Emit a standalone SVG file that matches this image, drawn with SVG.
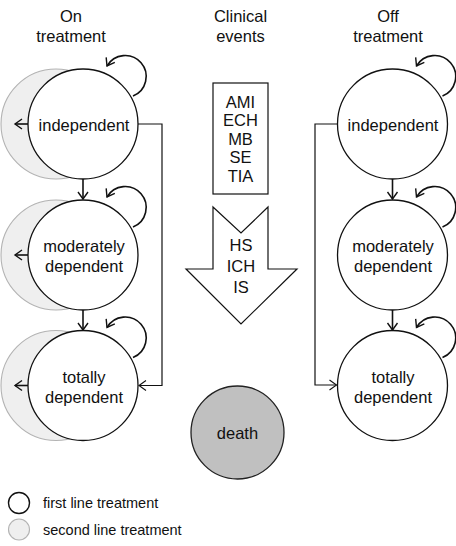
<svg xmlns="http://www.w3.org/2000/svg" width="456" height="546" viewBox="0 0 456 546">
<defs>
<style>
text{font-family:"Liberation Sans",Arial,sans-serif;font-size:16.5px;fill:#111;text-anchor:middle}
.lg{font-size:14.5px;text-anchor:start}
.st{fill:#fff;stroke:#111;stroke-width:1.3}
.nd{fill:#efefef;stroke:#b3b3b3;stroke-width:1.1}
.ar{fill:none;stroke:#111;stroke-width:1.6;marker-end:url(#ah)}
.cn{fill:none;stroke:#111;stroke-width:1.2}
.lp{fill:none;stroke:#111;stroke-width:1.6;marker-end:url(#ah)}
</style>
<marker id="ah" markerUnits="userSpaceOnUse" markerWidth="10" markerHeight="12" refX="7" refY="5" orient="auto" overflow="visible">
<path d="M0,0 L7,5 L0,10" fill="none" stroke="#111" stroke-width="1.4"/>
</marker>
<marker id="ah2" markerUnits="userSpaceOnUse" markerWidth="10" markerHeight="12" refX="7" refY="5" orient="auto" overflow="visible">
<path d="M0,0 L7,5 L0,10" fill="none" stroke="#111" stroke-width="1.1"/>
</marker>
</defs>

<g id="headers">
<text x="71" y="22">On</text>
<text x="71" y="41.5">treatment</text>
<text x="240.5" y="22">Clinical</text>
<text x="240.5" y="41.5">events</text>
<text x="388" y="22">Off</text>
<text x="388" y="41.5">treatment</text>
</g>

<g id="on-independent">
<circle class="nd" cx="56" cy="124" r="55"/>
<circle class="st" cx="83" cy="124" r="55"/>
<text x="84" y="131">independent</text>
</g>
<g id="on-moderately">
<circle class="nd" cx="56" cy="255" r="55"/>
<circle class="st" cx="83" cy="255" r="55"/>
<text x="84" y="252">moderately</text>
<text x="84" y="272">dependent</text>
</g>
<g id="on-totally">
<circle class="nd" cx="56" cy="385.5" r="55"/>
<circle class="st" cx="83" cy="385.5" r="55"/>
<text x="84" y="383">totally</text>
<text x="84" y="403">dependent</text>
</g>

<g id="off-independent">
<circle class="st" cx="392.5" cy="124" r="55"/>
<text x="393" y="131">independent</text>
</g>
<g id="off-moderately">
<circle class="st" cx="392.5" cy="255" r="55"/>
<text x="393" y="252">moderately</text>
<text x="393" y="272">dependent</text>
</g>
<g id="off-totally">
<circle class="st" cx="392.5" cy="385.5" r="55"/>
<text x="393" y="383">totally</text>
<text x="393" y="403">dependent</text>
</g>

<g id="events-box">
<rect x="213" y="83" width="55" height="111" fill="#fff" stroke="#111" stroke-width="1.2"/>
<text x="240.5" y="107.5">AMI</text>
<text x="240.5" y="126">ECH</text>
<text x="240.5" y="144.5">MB</text>
<text x="240.5" y="163">SE</text>
<text x="240.5" y="181.5">TIA</text>
</g>

<g id="events-arrow">
<polygon points="213,207 241,233 268,207 268,269 297,269 241,324 186,269 213,269" fill="#fff" stroke="#111" stroke-width="1.2"/>
<text x="241" y="251">HS</text>
<text x="241" y="272">ICH</text>
<text x="241" y="293">IS</text>
</g>

<g id="death">
<circle cx="237.5" cy="432.5" r="46.5" fill="#c0c0c0" stroke="#222" stroke-width="1.3"/>
<text x="237.5" y="439">death</text>
</g>

<g id="connectors">
<!-- left column -->
<path class="ar" d="M28,124 H15"/>
<path class="ar" d="M28,255 H15"/>
<path class="ar" d="M28,385.5 H15"/>
<path class="ar" d="M83,179 V199"/>
<path class="ar" d="M83,310 V330"/>
<path class="lp" d="M133,96 A21,21 0 1 0 107,66"/>
<path class="lp" d="M133,227 A21,21 0 1 0 107,197"/>
<path class="lp" d="M133,357.5 A21,21 0 1 0 107,327.5"/>
<path class="cn" d="M138,124 H162 V385.5 H139" marker-end="url(#ah2)"/>
<!-- right column -->
<path class="ar" d="M392.5,179 V199"/>
<path class="ar" d="M392.5,310 V330"/>
<path class="lp" d="M442.5,96 A21,21 0 1 0 416.5,66"/>
<path class="lp" d="M442.5,227 A21,21 0 1 0 416.5,197"/>
<path class="lp" d="M442.5,357.5 A21,21 0 1 0 416.5,327.5"/>
<path class="cn" d="M337.5,124 H315 V385 H336.5" marker-end="url(#ah2)"/>
</g>

<g id="legend">
<circle cx="19" cy="503" r="10.5" fill="#fff" stroke="#111" stroke-width="1.4"/>
<circle cx="19" cy="529.5" r="10.5" fill="#efefef" stroke="#b3b3b3" stroke-width="1.1"/>
<text class="lg" x="43" y="508">first line treatment</text>
<text class="lg" x="43" y="535">second line treatment</text>
</g>
</svg>
